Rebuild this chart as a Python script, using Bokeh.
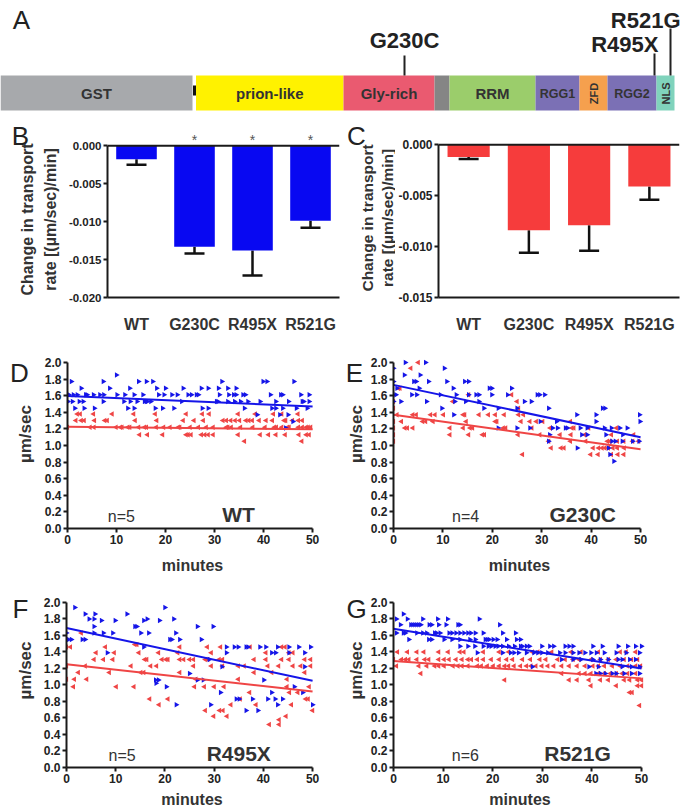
import numpy as np
from bokeh.plotting import figure
from bokeh.layouts import column, row
from bokeh.models import (Range1d, FactorRange, Label, Whisker, ColumnDataSource,
                          FixedTicker, Span, TeeHead, NumeralTickFormatter)
from bokeh.core.properties import value
from bokeh.embed import file_html
from bokeh.resources import INLINE

FONT = "Liberation Sans"
TXT = "#222222"

# ---------------- Panel A: construct schematic ----------------
domain_names = ["GST", "prion-like", "Gly-rich", "", "RRM", "RGG1", "ZFD", "RGG2", "NLS"]
domain_start = [0, 195.5, 343, 434, 449, 535, 579, 607, 656]
domain_end = [192, 343, 434, 449, 535, 579, 607, 656, 674]
domain_colors = ["#a7a9ac", "#fff200", "#ea5a70", "#858585", "#9bcd6b",
                 "#7b70b5", "#f5a04e", "#7b70b5", "#80d3bc"]
mutations = ["G230C", "R495X", "R521G"]
mutation_pos = [404, 654, 670]

# ---------------- Panels B/C: slope bars ----------------
mut_cats = ["WT", "G230C", "R495X", "R521G"]
B_slope = [-0.0018, -0.0133, -0.0138, -0.0099]
B_err = [-0.0025, -0.0142, -0.0171, -0.0108]
B_sig = ["", "*", "*", "*"]
C_slope = [-0.0012, -0.0084, -0.0079, -0.0041]
C_err = [-0.0014, -0.0106, -0.0104, -0.0054]

# ---------------- Panels D-G: transport rate vs time ----------------
# each entry: (speed µm/sec, [minutes...])
D_blue = [
    (1.85, [10.0]),
    (1.77, [0.8, 7.3, 14.5, 16.1, 17.4, 31.5, 39.9, 40.7, 46.2]),
    (1.69, [2.8, 8.6, 12.7, 18.2, 20.0, 23.6, 27.3, 28.7, 30.8, 32.7, 34.4]),
    (1.61, [0.3, 1.2, 2.0, 3.7, 4.0, 5.3, 6.6, 7.4, 10.1, 11.7, 13.6, 15.4, 18.6, 19.7, 21.3, 22.4,
            24.6, 25.3, 26.3, 26.7, 31.0, 32.9, 33.9, 34.4, 35.8, 36.3, 41.4, 43.5, 43.9, 47.6, 49.3]),
    (1.53, [0.1, 1.0, 2.4, 3.2, 7.3, 11.5, 12.8, 14.2, 15.7, 16.1, 16.3, 17.0, 23.3, 30.4, 30.7, 32.7,
            34.1, 35.3, 36.8, 39.3, 42.5, 45.1, 47.9, 48.2, 49.3]),
    (1.45, [1.5, 3.4, 5.5, 12.3, 13.6, 17.9, 19.4, 21.7, 27.5, 28.7, 36.1, 41.7, 42.5, 43.9, 46.7, 48.9]),
    (1.37, [38.7, 43.3, 45.0]),
    (1.29, [46.0]),
    (1.21, [44.5]),
]
D_red = [
    (1.38, [2.0, 2.6, 5.3, 9.1, 13.5, 17.9, 24.2, 27.5, 28.9, 34.8, 38.3, 42.0, 43.7, 47.0]),
    (1.30, [1.7, 2.8, 3.4, 5.5, 7.6, 8.1, 13.8, 18.2, 23.6, 25.8, 27.7, 31.7, 32.4, 33.3, 34.2, 35.1,
            36.4, 37.0, 37.7, 39.1, 40.5, 41.8, 44.2, 44.5, 45.9, 47.1, 47.9]),
    (1.22, [0.0, 4.6, 5.4, 9.9, 10.8, 11.1, 12.3, 12.7, 14.5, 15.7, 16.1, 18.1, 19.6, 20.9, 22.6, 22.9,
            25.0, 26.7, 28.3, 29.7, 32.4, 32.7, 33.4, 35.3, 37.8, 40.3, 42.2, 42.6, 43.7, 44.9, 45.2,
            47.1, 47.9, 48.7, 49.1, 49.6]),
    (1.13, [14.7, 16.3, 19.4, 24.2, 24.6, 25.2, 27.3, 28.0, 28.7, 29.7, 34.8, 39.3, 41.0, 42.5, 44.4,
            47.2, 48.7, 49.3]),
    (1.05, [36.1, 47.8]),
]
E_blue = [
    (2.00, [2.4, 6.5]),
    (1.93, [0.0, 10.3]),
    (1.85, [2.2, 5.4]),
    (1.77, [0.0, 4.1, 4.6, 7.1, 10.8, 14.4, 15.2]),
    (1.69, [0.7, 5.2, 12.1, 19.4, 19.9, 23.9]),
    (1.61, [0.0, 0.5, 3.7, 4.7, 9.5, 12.7, 15.2, 16.7, 17.3, 19.9, 23.1, 29.1, 29.6, 30.6]),
    (1.53, [0.0, 1.5, 6.7, 12.4, 14.6, 17.3, 26.5, 27.9]),
    (1.45, [9.8, 18.3, 21.2, 25.0, 31.4, 42.3, 42.8]),
    (1.37, [12.2, 37.1, 41.0, 49.8]),
    (1.29, [29.7, 33.0, 41.0, 49.9]),
    (1.21, [21.2, 25.0, 27.6, 32.2, 33.2, 34.8, 35.2, 37.8, 39.2, 42.7, 44.1, 45.8, 47.3]),
    (1.13, [31.6, 38.1, 39.2, 43.0, 46.4]),
    (1.05, [31.4, 44.2, 44.9, 46.3, 48.4, 49.7]),
    (0.97, [37.2, 43.5]),
    (0.89, [43.8]),
    (0.81, [44.6]),
]
E_red = [
    (2.00, [5.0]),
    (1.93, [3.5]),
    (1.69, [1.0, 1.3]),
    (1.61, [15.2, 23.9]),
    (1.53, [0.0, 12.0, 25.0]),
    (1.45, [0.0, 25.3]),
    (1.37, [0.7, 3.9, 4.6, 7.5, 8.4, 10.1, 14.1, 14.4, 17.3, 19.2, 20.6, 22.4, 25.3, 26.3]),
    (1.29, [0.0, 1.6, 5.9, 6.5, 8.0, 14.7, 20.6, 20.9, 25.8, 27.6, 28.9, 30.2, 35.8]),
    (1.21, [0.0, 2.3, 2.8, 3.9, 11.4, 14.1, 15.5, 16.0, 22.2, 22.7, 28.0, 31.7, 36.1, 36.5, 39.5, 45.1]),
    (1.13, [0.0, 11.4, 15.2, 18.0, 18.4, 25.2, 29.6, 33.7, 35.9, 38.7, 44.1, 48.6]),
    (1.05, [0.0, 31.4, 35.8, 38.9, 43.3, 43.8, 45.3, 46.6, 48.4, 49.6]),
    (0.97, [31.9, 33.9, 34.5, 40.4, 41.5, 42.2, 42.8, 43.5, 44.4, 45.3, 46.7]),
    (0.89, [26.1, 39.9, 41.4, 44.1, 45.4, 46.6]),
]
F_blue = [
    (1.94, [1.7, 20.0]),
    (1.86, [3.8, 5.8, 12.3]),
    (1.80, [4.6, 5.6, 16.4, 21.8]),
    (1.78, [7.1, 9.9, 15.7, 18.9]),
    (1.71, [5.6, 13.9, 14.3, 26.6, 29.8]),
    (1.63, [0.0, 5.6, 7.5, 9.4, 15.1, 16.7, 22.2]),
    (1.55, [0.0, 0.4, 1.0, 3.2, 3.8, 21.0, 21.4, 23.0, 27.4]),
    (1.46, [15.7, 32.5, 34.1, 34.9, 36.5, 36.9, 39.3, 40.5, 42.9, 45.2, 47.2, 49.6]),
    (1.39, [8.3, 32.5, 41.7, 42.5, 45.2, 48.4]),
    (1.31, [29.0]),
    (1.22, [31.6, 48.4]),
    (1.14, [25.0]),
    (1.06, [18.1, 18.7, 26.6, 27.8, 40.1]),
    (1.02, [18.2]),
    (0.98, [20.3, 46.3]),
    (0.91, [31.3, 41.7, 48.0]),
    (0.83, [34.5, 35.1, 37.8, 40.9, 42.4, 43.9]),
    (0.76, [22.3, 29.3, 42.9, 50.0]),
    (0.69, [36.5, 38.9]),
]
F_red = [
    (1.63, [3.0]),
    (1.49, [13.9, 14.3]),
    (1.46, [0.0, 0.8, 7.9, 23.0, 28.6, 31.3, 37.3, 43.7, 44.4]),
    (1.39, [6.0, 9.7, 14.7, 18.7, 22.6, 29.4, 40.5, 45.2, 46.0]),
    (1.31, [5.6, 7.5, 9.4, 15.9, 16.3, 19.4, 20.2, 20.6, 23.0, 23.8, 25.0, 25.8, 28.2, 28.7, 31.0,
            31.7, 38.1, 40.5, 43.7, 45.2, 48.4, 49.6]),
    (1.23, [0.0, 3.8, 13.1, 17.1, 18.3, 25.8, 29.4, 31.7, 34.9, 36.1, 40.9, 43.1, 46.0, 47.6, 49.6]),
    (1.15, [2.4, 8.7, 15.1, 15.7, 23.0, 38.1, 41.7, 48.4]),
    (1.07, [0.0, 1.6, 4.1, 26.3, 34.9, 44.8]),
    (0.98, [1.4, 10.1, 13.7, 26.0, 28.0, 30.0, 32.0, 44.8, 49.3]),
    (0.91, [37.2, 45.3, 47.0]),
    (0.83, [16.9, 20.6, 35.3, 48.6, 49.1]),
    (0.76, [18.8, 33.4, 38.5, 45.7]),
    (0.69, [28.2, 31.1, 31.8, 50.0]),
    (0.62, [29.9, 32.6, 44.6]),
    (0.58, [43.2]),
    (0.52, [41.2, 43.2]),
]
G_blue = [
    (1.86, [2.0]),
    (1.80, [0.6, 2.8, 5.9, 8.9, 10.9, 17.3]),
    (1.73, [1.4, 3.5, 3.9, 4.3, 4.7, 5.1, 5.5, 7.2, 7.7, 9.1, 10.6, 13.0, 13.4, 21.4]),
    (1.63, [0.6, 2.0, 2.4, 4.7, 5.9, 6.7, 8.3, 8.7, 9.4, 11.2, 11.8, 12.6, 13.4, 14.2, 15.0, 15.6,
            16.5, 18.1, 22.0, 24.6]),
    (1.55, [3.1, 7.1, 7.7, 10.2, 11.8, 13.4, 15.4, 16.5, 18.5, 18.9, 19.3, 20.1, 20.9, 22.8, 24.8, 25.6]),
    (1.47, [13.4, 15.0, 16.4, 18.1, 19.1, 19.7, 20.5, 21.1, 22.0, 23.2, 24.4, 25.6, 26.0, 26.8, 27.4,
            29.9, 31.5, 32.3, 34.6, 35.4, 36.2, 40.2, 42.1, 45.3, 47.2, 48.8, 50.0]),
    (1.39, [16.9, 22.0, 23.6, 24.3, 25.2, 26.8, 28.3, 29.1, 29.9, 31.1, 33.5, 34.6, 36.2, 37.4, 38.6,
            39.8, 40.9, 42.5, 44.9, 46.9, 49.6]),
    (1.31, [33.9, 36.2, 37.8, 40.2, 41.7, 43.3, 45.3, 46.1, 47.6, 48.8]),
    (1.22, [28.0, 39.4, 41.3, 46.1, 48.0, 49.6]),
    (1.14, [40.8, 41.7, 42.7, 44.1, 44.9, 46.5, 48.0, 49.6]),
]
G_red = [
    (1.40, [0.8, 2.8, 4.7, 6.1, 9.1, 11.0, 13.4, 14.2, 18.1, 21.3, 23.2, 28.0, 29.1, 31.9, 35.8, 37.8,
            41.3, 45.7, 46.9, 48.8]),
    (1.31, [0.0, 1.6, 2.4, 3.1, 4.7, 6.3, 7.1, 9.1, 10.2, 11.2, 12.6, 13.8, 15.0, 15.7, 16.9, 18.1,
            19.7, 21.3, 22.8, 24.0, 26.0, 27.6, 29.5, 30.7, 33.1, 34.6, 36.2, 37.4, 39.8, 41.7, 43.3,
            44.9, 46.5, 48.0, 49.2]),
    (1.23, [0.6, 5.1, 6.7, 8.3, 9.1, 10.2, 12.0, 13.0, 13.8, 15.0, 16.9, 17.7, 18.9, 20.1, 21.3, 22.4,
            23.2, 24.3, 25.6, 26.8, 27.7, 28.7, 29.9, 31.1, 32.3, 33.9, 35.4, 37.0, 38.6, 40.2, 41.3,
            42.5, 44.1, 45.7, 47.2, 48.8, 49.8]),
    (1.14, [5.5, 33.9, 37.4, 38.6, 39.8, 41.3, 42.5, 43.7, 44.9, 46.1, 47.2, 48.8]),
    (1.06, [22.4, 35.4, 37.0, 39.4, 41.7, 43.3, 46.5, 47.6, 49.2, 50.0]),
    (0.99, [39.8, 44.9, 49.2, 50.0]),
    (0.91, [47.6, 48.1]),
    (0.75, [49.6]),
]
# linear fits: (intercept at 0 min, slope per min)
D_fit_blue, D_fit_red = (1.595, -0.0025), (1.225, -0.0006)
E_fit_blue, E_fit_red = (1.73, -0.0126), (1.37, -0.0083)
F_fit_blue, F_fit_red = (1.69, -0.0128), (1.25, -0.0066)
G_fit_blue, G_fit_red = (1.68, -0.0096), (1.29, -0.0042)
panel_n = ["n=5", "n=4", "n=5", "n=6"]
panel_names = ["WT", "G230C", "R495X", "R521G"]
speed_ticks = [0.0, 0.2, 0.4, 0.6, 0.8, 1.0, 1.2, 1.4, 1.6, 1.8, 2.0]
minute_ticks = [0, 10, 20, 30, 40, 50]

BLUE_BAR, RED_BAR = "#0808f2", "#f63c3c"
BLUE_PT, RED_PT = "#1515e8", "#ef4545"
YLAB = "\u00b5m/sec"


def expand(rows):
    t, v = [], []
    for speed, mins in rows:
        for m in mins:
            t.append(m)
            v.append(speed)
    return t, v


def clean(p):
    p.xgrid.visible = False
    p.ygrid.visible = False
    p.outline_line_color = None
    p.background_fill_color = "white"
    p.border_fill_color = "white"


def style_axis(ax, size):
    ax.axis_line_width = 2
    ax.axis_line_color = "#1a1a1a"
    ax.major_tick_line_width = 2
    ax.major_tick_line_color = "#1a1a1a"
    ax.minor_tick_line_color = None
    ax.major_label_text_font = FONT
    ax.major_label_text_font_style = "bold"
    ax.major_label_text_font_size = size
    ax.major_label_text_color = TXT


def gutter(x0, x1, y_top, y_bot):
    """Blank text-only strip covering page pixels x0..x1, y_top..y_bot."""
    g = figure(width=x1 - x0, height=y_bot - y_top, x_range=Range1d(x0, x1), y_range=Range1d(-y_bot, -y_top),
               output_backend="svg", toolbar_location=None, min_border=0)
    g.axis.visible = False
    clean(g)
    return g


def gtext(g, x, y, text, size, style="normal", angle=0.0, color=TXT, align="center"):
    g.text(x=[x], y=[-y], text=[text], angle=angle, text_font=value(FONT), text_font_size=size,
           text_font_style=style, text_color=color, text_align=align, text_baseline="middle")


# ---------------- figure A ----------------
pa = figure(width=685, height=118, x_range=Range1d(0, 685), y_range=Range1d(-118, 0),
            output_backend="svg", toolbar_location=None, min_border=0)
pa.axis.visible = False
clean(pa)
pa.quad(left=domain_start, right=domain_end, top=-75, bottom=-110, fill_color=domain_colors, line_color=None)
pa.quad(left=[192.5], right=[195.5], top=[-85], bottom=[-95], fill_color="#111111", line_color=None)
mids = [(a + b) / 2 for a, b in zip(domain_start, domain_end)]
big = [0, 1, 2, 4]
pa.text(x=[mids[i] for i in big], y=[-93] * 4, text=[domain_names[i] for i in big],
        text_font=value(FONT), text_font_style="bold", text_font_size="15px",
        text_color="#333333", text_align="center", text_baseline="middle")
pa.text(x=[mids[5], mids[7]], y=[-93, -93], text=[domain_names[5], domain_names[7]],
        text_font=value(FONT), text_font_style="bold", text_font_size="12.5px",
        text_color="#333333", text_align="center", text_baseline="middle")
pa.text(x=[mids[6], mids[8]], y=[-93, -93], text=[domain_names[6], domain_names[8]], angle=np.pi / 2,
        text_font=value(FONT), text_font_style="bold", text_font_size="11px",
        text_color="#333333", text_align="center", text_baseline="middle")
pa.segment(x0=mutation_pos, y0=[-55, -53, -28], x1=mutation_pos, y1=[-75, -75, -75],
           line_color="#222222", line_width=2)
pa.text(x=[mutation_pos[0]], y=[-40], text=[mutations[0]], text_font=value(FONT), text_font_style="bold",
        text_font_size="22px", text_color=TXT, text_align="center", text_baseline="middle")
pa.text(x=[mutation_pos[1] + 4, mutation_pos[2] + 10], y=[-44, -20], text=[mutations[1], mutations[2]],
        text_font=value(FONT), text_font_style="bold", text_font_size="22px", text_color=TXT,
        text_align="right", text_baseline="middle")
gtext(pa, 21, 19, "A", "26px")


# ---------------- bar panels ----------------
def bar_panel(vals, errs, color, ymin, ytop, width, ml, mr, mt, mb, tick_size, sig=None):
    p = figure(width=width, height=217, x_range=FactorRange(*mut_cats, range_padding=0),
               y_range=Range1d(ymin, ytop), output_backend="svg", toolbar_location=None,
               min_border_left=ml, min_border_right=mr, min_border_top=mt, min_border_bottom=mb)
    clean(p)
    src = ColumnDataSource(dict(cat=mut_cats, val=vals, err=errs))
    p.vbar(x="cat", top=0, bottom="val", width=0.7, fill_color=color, line_color=None, source=src)
    p.add_layout(Whisker(base="cat", upper="val", lower="err", source=src, upper_head=None,
                         lower_head=TeeHead(size=20, line_width=2.5, line_color="#111111"),
                         line_width=2.5, line_color="#111111"))
    p.add_layout(Span(location=0, dimension="width", line_color="#1a1a1a", line_width=2))
    if sig is not None:
        p.text(x=mut_cats, y=[0.0008] * 4, text=sig, text_font=value(FONT), text_font_size="14px",
               text_color="#555555", text_align="center", text_baseline="middle")
    ticks = list(np.round(np.arange(0, ymin - 1e-9, -0.005), 4))
    p.yaxis.ticker = FixedTicker(ticks=ticks)
    p.yaxis.formatter = NumeralTickFormatter(format="0.000")
    p.yaxis.bounds = (ymin, 0)
    style_axis(p.yaxis[0], tick_size)
    p.yaxis.major_tick_out = 4
    p.yaxis.major_tick_in = 0
    p.yaxis.major_label_standoff = 2
    style_axis(p.xaxis[0], "16px")
    p.xaxis.major_tick_out = 0
    p.xaxis.major_tick_in = 0
    p.xaxis.major_label_standoff = 18
    p.xaxis.major_label_text_color = "#333333"
    return p


ROW1_T, ROW1_B = 118, 335
gB = gutter(0, 62, ROW1_T, ROW1_B)
gtext(gB, 20, 130, "B", "26px")
gtext(gB, 27, 236, "Change in transport", "16px", "bold", np.pi / 2, "#333333")
gtext(gB, 50, 236, "rate [(\u00b5m/sec)/min]", "16px", "bold", np.pi / 2, "#333333")
pb = bar_panel(B_slope, B_err, BLUE_BAR, -0.020, 0.00253, 282, 45, 5, 8, 31, "11.5px", sig=B_sig)

gC = gutter(344, 395, ROW1_T, ROW1_B)
gtext(gC, 356, 130, "C", "26px")
gtext(gC, 367, 234, "Change in transport", "15.5px", "bold", np.pi / 2, "#333333")
gtext(gC, 387, 234, "rate [(\u00b5m/sec)/min]", "15.5px", "bold", np.pi / 2, "#333333")
pc = bar_panel(C_slope, C_err, RED_BAR, -0.015, 0.0018, 290, 38, 6, 8, 32, "12px")


# ---------------- scatter panels ----------------
def scatter_panel(blue, red, fit_b, fit_r, width, height, ml, mr, mt, mb,
                  ntext, name, n_x, name_x, xlab_standoff):
    p = figure(width=width, height=height, x_range=Range1d(0, 51), y_range=Range1d(0, 2.06),
               output_backend="svg", toolbar_location=None,
               min_border_left=ml, min_border_right=mr, min_border_top=mt, min_border_bottom=mb)
    clean(p)
    bt, bv = expand(blue)
    rt, rv = expand(red)
    p.scatter(rt, rv, marker="triangle", size=5.5, angle=np.pi / 2, fill_color=RED_PT, line_color=None)
    p.scatter(bt, bv, marker="triangle", size=5.5, angle=-np.pi / 2, fill_color=BLUE_PT, line_color=None)
    xs = np.array([0.0, 50.0])
    p.line(xs, fit_r[0] + fit_r[1] * xs, line_color=RED_PT, line_width=2)
    p.line(xs, fit_b[0] + fit_b[1] * xs, line_color=BLUE_PT, line_width=2)
    p.xaxis.ticker = FixedTicker(ticks=minute_ticks)
    p.yaxis.ticker = FixedTicker(ticks=speed_ticks)
    p.yaxis.formatter = NumeralTickFormatter(format="0.0")
    p.xaxis.bounds = (0, 50)
    p.yaxis.bounds = (0, 2.0)
    for ax in (p.xaxis[0], p.yaxis[0]):
        style_axis(ax, "12px")
        ax.major_tick_out = 4
        ax.major_tick_in = 0
        ax.major_label_standoff = 2
    ax = p.xaxis[0]
    ax.axis_label = "minutes"
    ax.axis_label_standoff = xlab_standoff
    ax.axis_label_text_font = FONT
    ax.axis_label_text_font_style = "bold"
    ax.axis_label_text_font_size = "16px"
    ax.axis_label_text_color = "#333333"
    p.add_layout(Label(x=n_x, y=0.14, text=ntext, text_font=FONT, text_font_size="16px",
                       text_color="#333333", text_align="center", text_baseline="middle"))
    p.add_layout(Label(x=name_x, y=0.17, text=name, text_font=FONT, text_font_size="21px",
                       text_font_style="bold", text_color="#333333", text_align="center",
                       text_baseline="middle"))
    return p


ROW2_T, ROW2_B = 335, 585
gD = gutter(0, 40, ROW2_T, ROW2_B)
gtext(gD, 19, 357, "D", "26px")
gtext(gD, 25, 447, YLAB, "17px", "bold", np.pi / 2, "#333333")
pd_ = scatter_panel(D_blue, D_red, D_fit_blue, D_fit_red, 304, 250, 27, 27, 22, 57,
                    panel_n[0], panel_names[0], 11.0, 34.9, 10)
gE = gutter(344, 366, ROW2_T, ROW2_B)
gtext(gE, 354, 357, "E", "26px")
gtext(gE, 356, 447, YLAB, "17px", "bold", np.pi / 2, "#333333")
pe = scatter_panel(E_blue, E_red, E_fit_blue, E_fit_red, 319, 250, 27, 40, 22, 57,
                   panel_n[1], panel_names[1], 14.6, 38.3, 10)

ROW3_T, ROW3_B = 585, 811
gF = gutter(0, 40, ROW3_T, ROW3_B)
gtext(gF, 20, 600, "F", "26px")
gtext(gF, 25, 682, YLAB, "17px", "bold", np.pi / 2, "#333333")
pf = scatter_panel(F_blue, F_red, F_fit_blue, F_fit_red, 304, 226, 25, 27, 12, 44,
                   panel_n[2], panel_names[2], 11.3, 35.0, 5)
gG = gutter(344, 366, ROW3_T, ROW3_B)
gtext(gG, 356, 600, "G", "26px")
gtext(gG, 356, 682, YLAB, "17px", "bold", np.pi / 2, "#333333")
pg = scatter_panel(G_blue, G_red, G_fit_blue, G_fit_red, 319, 226, 27, 39, 12, 44,
                   panel_n[3], panel_names[3], 14.5, 37.1, 5)

layout = column(pa, row(gB, pb, gC, pc), row(gD, pd_, gE, pe), row(gF, pf, gG, pg))
open("out.html", "w").write(file_html(layout, INLINE))
